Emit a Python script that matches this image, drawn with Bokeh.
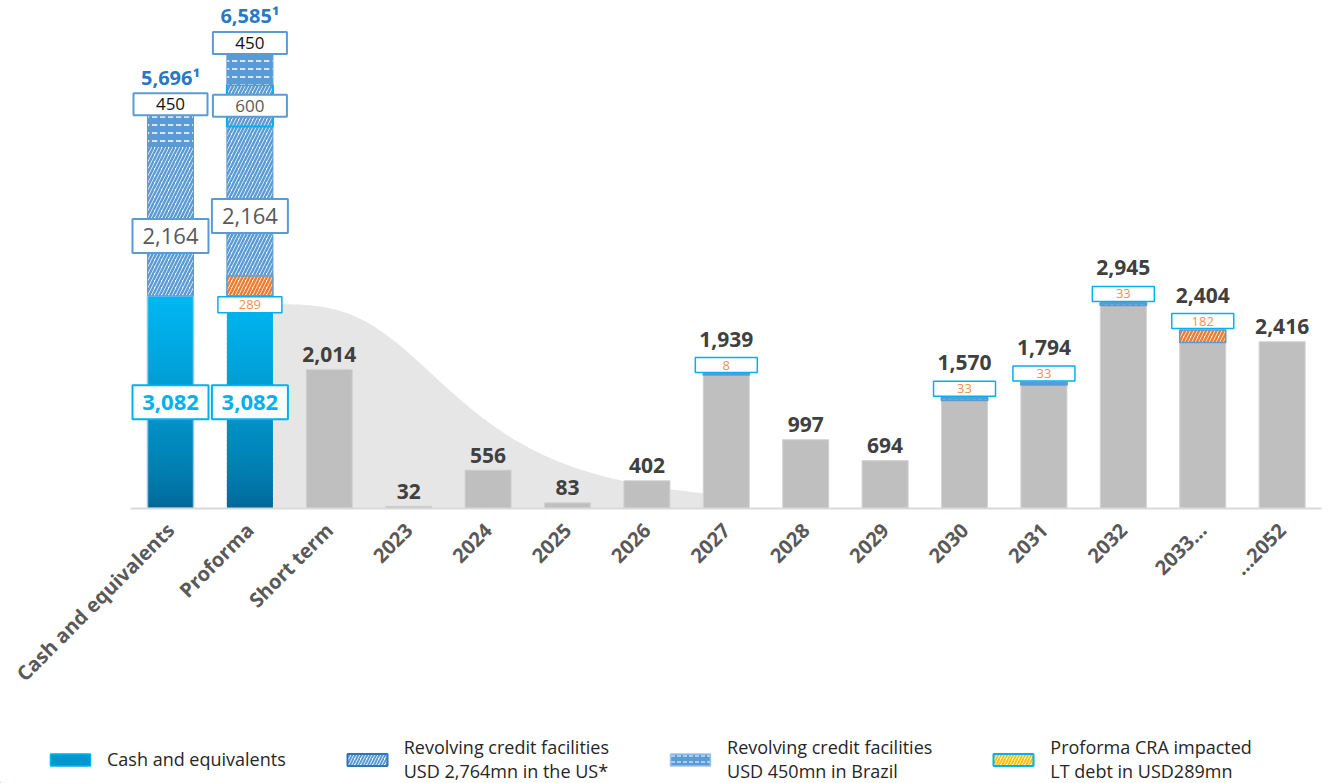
import math
import numpy as np
from bokeh.plotting import figure
from bokeh.models import Range1d, FixedTicker, Legend, LegendItem, ColumnDataSource
from bokeh.layouts import column
from bokeh.embed import file_html
from bokeh.resources import INLINE
from bokeh.core.properties import value

# ---------------- data ----------------
CATEGORIES = ["Cash and equivalents", "Proforma", "Short term", "2023", "2024", "2025",
              "2026", "2027", "2028", "2029", "2030", "2031", "2032", "2033...", "...2052"]

LIQ_CATS = ["Cash and equivalents", "Proforma"]
LIQ_CASH = [3082, 3082]
LIQ_CRA = [0, 289]
LIQ_RCF_US = [2164, 2164]
LIQ_RCF_US_NEW = [0, 600]
LIQ_RCF_BR = [450, 450]
LIQ_TOTAL_LABELS = ["5,696\u00b9", "6,585\u00b9"]

MAT_CATS = ["Short term", "2023", "2024", "2025", "2026", "2027", "2028", "2029",
            "2030", "2031", "2032", "2033...", "...2052"]
MATURITIES = [2014, 32, 556, 83, 402, 1939, 997, 694, 1570, 1794, 2945, 2404, 2416]
MAT_EXTRA_RCF = [0, 0, 0, 0, 0, 8, 0, 0, 33, 33, 33, 0, 0]
MAT_EXTRA_CRA = [0, 0, 0, 0, 0, 0, 0, 0, 0, 0, 0, 182, 0]

LEGEND_LABELS = ["Cash and equivalents",
                 "Revolving credit facilities\nUSD 2,764mn in the US*",
                 "Revolving credit facilities\nUSD 450mn in Brazil",
                 "Proforma CRA impacted\nLT debt in USD289mn"]

# ---------------- layout / style ----------------
W = 1329
MAIN_H = 715
LEG_H = 68
FRAME_H = 508
YMAX = 7360
PX = YMAX / FRAME_H
BAR_W = 0.58
X_START, X_END = -1.641, 15.021
FONT = "Open Sans"
BLUE = "#5B9BD5"
CYAN = "#00B0F0"
ORANGE = "#ED7D31"
GREY_TXT = "#595959"

def xpos(cats):
    return [CATEGORIES.index(cat) + 0.5 for cat in cats]

p = figure(width=W, height=MAIN_H, x_range=Range1d(X_START, X_END), y_range=Range1d(0, YMAX),
           toolbar_location=None, output_backend="svg", y_axis_location=None,
           min_border_left=0, min_border_right=6, min_border_top=0, min_border_bottom=MAIN_H - FRAME_H)
p.outline_line_color = None
p.grid.visible = False
p.background_fill_color = "white"
p.border_fill_color = "white"

ax = p.xaxis[0]
ax.ticker = FixedTicker(ticks=xpos(CATEGORIES))
ax.major_label_overrides = {x: cat for x, cat in zip(xpos(CATEGORIES), CATEGORIES)}
ax.bounds = (0, len(CATEGORIES))
ax.axis_line_color = "#D9D9D9"
ax.axis_line_width = 2
ax.major_tick_line_color = None
ax.minor_tick_line_color = None
ax.major_label_orientation = math.pi / 4
ax.major_label_text_font = FONT
ax.major_label_text_font_style = "bold"
ax.major_label_text_font_size = "20px"
ax.major_label_text_color = GREY_TXT
ax.major_label_standoff = 12

# background highlight shape (decay from proforma liquidity to 2027)
x_pf = xpos(["Proforma"])[0]
x_27 = xpos(["2027"])[0]
c = np.linspace(x_pf, x_27, 120)
d = np.clip(c - (x_pf + 0.3), 0, None)
shape = 1.0 / (1.0 + (d / 2.45) ** 3.17)
H = LIQ_CASH[1] * 0.96
p.patch(x=[x_pf] + list(c) + [x_27], y=[0] + list(H * shape) + [0],
        fill_color="#E6E6E6", line_color=None)

# ---------------- liquidity stacks ----------------
lx = np.array(xpos(LIQ_CATS))
cash = np.array(LIQ_CASH, float)
cra = np.array(LIQ_CRA, float)
us = np.array(LIQ_RCF_US, float)
usn = np.array(LIQ_RCF_US_NEW, float)
br = np.array(LIQ_RCF_BR, float)
b_cra, t_cra = cash, cash + cra
b_us, t_us = t_cra, t_cra + us
b_usn, t_usn = t_us, t_us + usn
b_br, t_br = t_usn, t_usn + br

# gradient cash segment
N = 48
bot_rgb = np.array([0, 102, 148])
top_rgb = np.array([0, 184, 243])
sx, sb, st, sc = [], [], [], []
for xx, v in zip(lx, LIQ_CASH):
    for i in range(N):
        t = (i + 0.5) / N
        g = t ** 0.7
        rgb = (bot_rgb + (top_rgb - bot_rgb) * g).astype(int)
        sx.append(xx)
        sb.append(v * i / N)
        st.append(min(v, v * (i + 1.4) / N))
        sc.append("#%02x%02x%02x" % tuple(rgb))
p.vbar(x=sx, bottom=sb, top=st, width=BAR_W, fill_color=sc, line_color=None)
p.vbar(x=lx[:1], top=cash[:1], width=BAR_W, fill_color=None, line_color="#9FC3E7", line_width=1.5)

def pos(arr):
    return [i for i, v in enumerate(arr) if v > 0]

ic = pos(LIQ_CRA)
p.vbar(x=lx[ic], bottom=b_cra[ic], top=t_cra[ic], width=BAR_W,
       fill_color="white", hatch_pattern="/", hatch_color=ORANGE, hatch_weight=2.5, hatch_scale=7,
       line_color=BLUE, line_width=1.5)
p.vbar(x=lx, bottom=b_us, top=t_us, width=BAR_W,
       fill_color="white", hatch_pattern="/", hatch_color=BLUE, hatch_weight=2.5, hatch_scale=7,
       line_color=BLUE, line_width=1)
inw = pos(LIQ_RCF_US_NEW)
p.vbar(x=lx[inw], bottom=b_usn[inw], top=t_usn[inw], width=BAR_W,
       fill_color="white", hatch_pattern="/", hatch_color=BLUE, hatch_weight=2.5, hatch_scale=7,
       line_color=CYAN, line_width=2)
p.vbar(x=lx, bottom=b_br, top=t_br, width=BAR_W,
       fill_color=BLUE, hatch_pattern='"', hatch_color="white", hatch_weight=1.5, hatch_scale=8,
       line_color=BLUE, line_width=1)

def box_label(xs, ys, texts, w, h, border, lw, color, size, style="normal"):
    src = ColumnDataSource(dict(x=list(xs), y=list(ys), t=list(texts)))
    p.rect(x="x", y="y", width=w, height=h, width_units="screen", height_units="screen",
           source=src, fill_color="white", line_color=border, line_width=lw)
    p.text(x="x", y="y", text="t", source=src, text_align="center", text_baseline="middle",
           text_font=value(FONT), text_font_size=size, text_font_style=style, text_color=color)

fmt = lambda v: "{:,}".format(int(v))
box_label(lx, cash * 0.5, [fmt(v) for v in cash], 76, 34, CYAN, 2, CYAN, "22px", "bold")
box_label(lx, b_us + 0.4 * us, [fmt(v) for v in us], 76, 34, BLUE, 2, GREY_TXT, "22px")
box_label(lx[ic], cash[ic] - 9 * PX, [fmt(v) for v in cra[ic]], 64, 16, CYAN, 1.5, "#F0914F", "13px")
box_label(lx[inw], b_usn[inw] + usn[inw] / 2, [fmt(v) for v in usn[inw]], 74, 22, BLUE, 2, GREY_TXT, "17px")
box_label(lx, t_br + 11 * PX, [fmt(v) for v in br], 74, 22, BLUE, 2, "#111111", "17px")
p.text(x=list(lx), y=list(t_br + 38 * PX), text=LIQ_TOTAL_LABELS, text_align="center",
       text_baseline="middle", text_font=value(FONT), text_font_size="20px",
       text_font_style="bold", text_color="#2878C8")

# ---------------- maturity bars ----------------
mx = np.array(xpos(MAT_CATS))
mat = np.array(MATURITIES, float)
p.vbar(x=mx, top=mat, width=BAR_W, fill_color="#BFBFBF", line_color="#D3D3D3", line_width=1)
er = pos(MAT_EXTRA_RCF)
ex_r = np.array(MAT_EXTRA_RCF, float)
p.vbar(x=mx[er], bottom=mat[er], top=mat[er] + ex_r[er], width=BAR_W,
       fill_color=BLUE, hatch_pattern='"', hatch_color="white", hatch_weight=1, hatch_scale=6,
       line_color=BLUE, line_width=2)
ecr = pos(MAT_EXTRA_CRA)
ex_c = np.array(MAT_EXTRA_CRA, float)
p.vbar(x=mx[ecr], bottom=mat[ecr], top=mat[ecr] + ex_c[ecr], width=BAR_W,
       fill_color="white", hatch_pattern="/", hatch_color=ORANGE, hatch_weight=2.5, hatch_scale=7,
       line_color=BLUE, line_width=1.5)

extra = ex_r + ex_c
top_all = mat + extra
ie = pos(list(extra))
box_label(mx[ie], top_all[ie] + 9 * PX, [fmt(extra[i]) for i in ie], 62, 15, CYAN, 1.5, "#F0914F", "13px")
lab_y = [t + (35 if e > 0 else 15) * PX for t, e in zip(top_all, extra)]
p.text(x=list(mx), y=lab_y, text=[fmt(v) for v in mat], text_align="center", text_baseline="middle",
       text_font=value(FONT), text_font_size="21px", text_font_style="bold", text_color="#404040")

# ---------------- legend ----------------
leg = figure(width=W, height=LEG_H, x_range=Range1d(0, 1), y_range=Range1d(0, 1),
             toolbar_location=None, output_backend="svg", x_axis_location=None, y_axis_location=None,
             min_border=0)
leg.outline_line_color = None
leg.grid.visible = False
off = dict(x=[-10], top=[-10], bottom=[-11], width=0.1)
r1 = leg.vbar(**off, fill_color="#0096CE", line_color=CYAN, line_width=1.5)
r2 = leg.vbar(**off, fill_color="white", hatch_pattern="/", hatch_color=BLUE,
              hatch_weight=2, hatch_scale=6, line_color="#2E75B6", line_width=2)
r3 = leg.vbar(**off, fill_color=BLUE, hatch_pattern='"', hatch_color="white",
              hatch_weight=1, hatch_scale=6, line_color="#9DC3E6", line_width=1.5)
r4 = leg.vbar(**off, fill_color="white", hatch_pattern="/", hatch_color="#FFC000",
              hatch_weight=2, hatch_scale=6, line_color=CYAN, line_width=2)
legend = Legend(items=[LegendItem(label=l, renderers=[r]) for l, r in zip(LEGEND_LABELS, [r1, r2, r3, r4])],
                orientation="horizontal", location=(45, 0), padding=0, margin=0, spacing=56,
                glyph_width=50, glyph_height=15, label_standoff=12,
                label_text_font=FONT, label_text_font_size="18px", label_text_color="#262626",
                label_text_line_height=1.15,
                background_fill_alpha=0, border_line_color=None)
leg.add_layout(legend, "center")

layout = column(p, leg, spacing=0)
open("out.html", "w").write(file_html(layout, INLINE))
